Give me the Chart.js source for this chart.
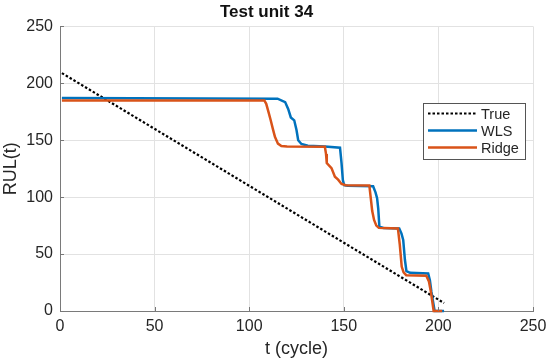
<!DOCTYPE html>
<html>
<head>
<meta charset="utf-8">
<title>Test unit 34</title>
<script src="https://cdn.jsdelivr.net/npm/chart.js@4.4.1/dist/chart.umd.min.js"></script>
<style>
    html, body { margin: 0; padding: 0; background: #fff; }
    #chart { display: block; }
</style>
</head>
<body>
<canvas id="chart" width="550" height="362"></canvas>
<script>
// values
const trueT = [1, 203];
const trueRul = [209, 7];

const wlsT = [1, 115, 119, 120.6, 122, 123.8, 125, 125.9, 127.6, 131, 140, 148,
    148.8, 149.5, 150.2, 152, 165.5, 166.8, 167.6, 168.2, 168.8, 171, 179.3,
    180.5, 181.4, 182.3, 183.1, 185, 194.6, 195.5, 196.3, 197.2, 198, 203];
const wlsRul = [187, 186.5, 183.5, 177.5, 170, 167.5, 159, 150, 146.7, 145.2, 144.5, 143.5,
    130, 115, 110.5, 110, 109.5, 104, 99, 90, 74, 73, 72.5,
    68, 62.5, 45, 35, 33.5, 33, 27, 17, 8, 0, 0];

const ridgeT = [1, 108, 109, 110, 111.3, 112.5, 113.6, 115.2, 117, 120, 140,
    140.6, 141, 143.5, 145.3, 147, 148.8, 151, 163.5, 164.2, 165, 166, 167.2, 168.5, 171,
    178.6, 179.6, 180.6, 181.6, 183, 193.6, 195, 196, 197.5, 202];
const ridgeRul = [185, 185, 182, 176, 168, 160, 153, 147, 145, 144.5, 144.3,
    138, 130, 125.5, 118, 115.4, 111.6, 110.5, 110.3, 100, 88, 80, 75, 73, 72.8,
    72.5, 58, 39, 34, 31.5, 31, 26, 17, 0, 0];

const xTicks = [0, 50, 100, 150, 200, 250];
const yTicks = [0, 50, 100, 150, 200, 250];

const toPoints = (xs, ys) => xs.map((x, i) => ({ x: x, y: ys[i] }));

const textColor = '#262626';
const fontFamily = '"Liberation Sans", Arial, Helvetica, sans-serif';

// legend drawn inside the axes like matlab does
const boxLegend = {
    id: 'boxLegend',
    afterDraw(chart) {
        const ctx = chart.ctx;
        const x0 = 423, y0 = 103, w = 102, h = 56;
        ctx.save();
        ctx.fillStyle = '#fff';
        ctx.fillRect(x0, y0, w, h);
        ctx.strokeStyle = '#555';
        ctx.lineWidth = 1;
        ctx.strokeRect(x0 + 0.5, y0 + 0.5, w, h);
        const order = [2, 0, 1];
        ctx.font = '14.5px ' + fontFamily;
        ctx.textBaseline = 'middle';
        order.forEach((idx, row) => {
            const ds = chart.data.datasets[idx];
            const y = y0 + 10.5 + row * 17;
            ctx.beginPath();
            ctx.strokeStyle = ds.borderColor;
            ctx.lineWidth = ds.borderWidth;
            ctx.setLineDash(ds.borderDash || []);
            ctx.moveTo(x0 + 5, y);
            ctx.lineTo(x0 + 54, y);
            ctx.stroke();
            ctx.setLineDash([]);
            ctx.fillStyle = textColor;
            ctx.fillText(ds.label, x0 + 58, y + 1);
        });
        ctx.restore();
    }
};

// small inward tick marks
const innerTicks = {
    id: 'innerTicks',
    afterDatasetsDraw(chart) {
        const ctx = chart.ctx;
        const area = chart.chartArea;
        const xs = chart.scales.x, ys = chart.scales.y;
        ctx.save();
        ctx.strokeStyle = '#777';
        ctx.lineWidth = 1;
        ctx.beginPath();
        xTicks.forEach(v => {
            const px = Math.round(xs.getPixelForValue(v)) + 0.5;
            ctx.moveTo(px, area.bottom);
            ctx.lineTo(px, area.bottom - 4);
        });
        yTicks.forEach(v => {
            const py = Math.round(ys.getPixelForValue(v)) + 0.5;
            ctx.moveTo(area.left, py);
            ctx.lineTo(area.left + 4, py);
        });
        ctx.stroke();
        ctx.restore();
    }
};

new Chart(document.getElementById('chart'), {
    type: 'line',
    data: {
        datasets: [
            {
                label: 'WLS',
                data: toPoints(wlsT, wlsRul),
                borderColor: '#0072BD',
                borderWidth: 2.5,
                order: 1
            },
            {
                label: 'Ridge',
                data: toPoints(ridgeT, ridgeRul),
                borderColor: '#D95319',
                borderWidth: 2.5,
                order: 0
            },
            {
                label: 'True',
                data: toPoints(trueT, trueRul),
                borderColor: '#000',
                borderWidth: 2.2,
                borderDash: [2.5, 2],
                order: 2
            }
        ]
    },
    options: {
        responsive: false,
        animation: false,
        devicePixelRatio: 1,
        layout: { padding: { left: 0, right: 17, top: 0, bottom: 0 } },
        elements: {
            point: { radius: 0 },
            line: { tension: 0, fill: false, borderCapStyle: 'butt' }
        },
        datasets: { line: { clip: false } },
        plugins: {
            legend: { display: false },
            tooltip: { enabled: false },
            title: {
                display: true,
                text: 'Test unit 34',
                color: '#111',
                font: { family: fontFamily, size: 17, weight: 'bold' },
                padding: { top: 2, bottom: 4 }
            }
        },
        scales: {
            x: {
                type: 'linear',
                min: 0,
                max: 250,
                afterBuildTicks: scale => { scale.ticks = xTicks.map(v => ({ value: v })); },
                afterFit: scale => {
                    scale.height = 51;
                    scale.paddingLeft = 0;
                    scale.paddingRight = 0;
                },
                ticks: {
                    color: textColor,
                    font: { family: fontFamily, size: 16 },
                    padding: 6,
                    maxRotation: 0
                },
                grid: { color: '#e2e2e2', drawTicks: false },
                border: { color: '#7a7a7a', width: 1 },
                title: {
                    display: true,
                    text: 't (cycle)',
                    color: textColor,
                    font: { family: fontFamily, size: 18 },
                    padding: { top: 0, bottom: 2 }
                }
            },
            y: {
                type: 'linear',
                min: 0,
                max: 250,
                afterBuildTicks: scale => { scale.ticks = yTicks.map(v => ({ value: v })); },
                afterFit: scale => { scale.width = 60; },
                ticks: {
                    color: textColor,
                    font: { family: fontFamily, size: 16 },
                    padding: 7
                },
                grid: { color: '#e2e2e2', drawTicks: false },
                border: { color: '#7a7a7a', width: 1 },
                title: {
                    display: true,
                    text: 'RUL(t)',
                    color: textColor,
                    font: { family: fontFamily, size: 18 },
                    padding: { top: 0, bottom: 0 }
                }
            }
        }
    },
    plugins: [innerTicks, boxLegend]
});
</script>
</body>
</html>
